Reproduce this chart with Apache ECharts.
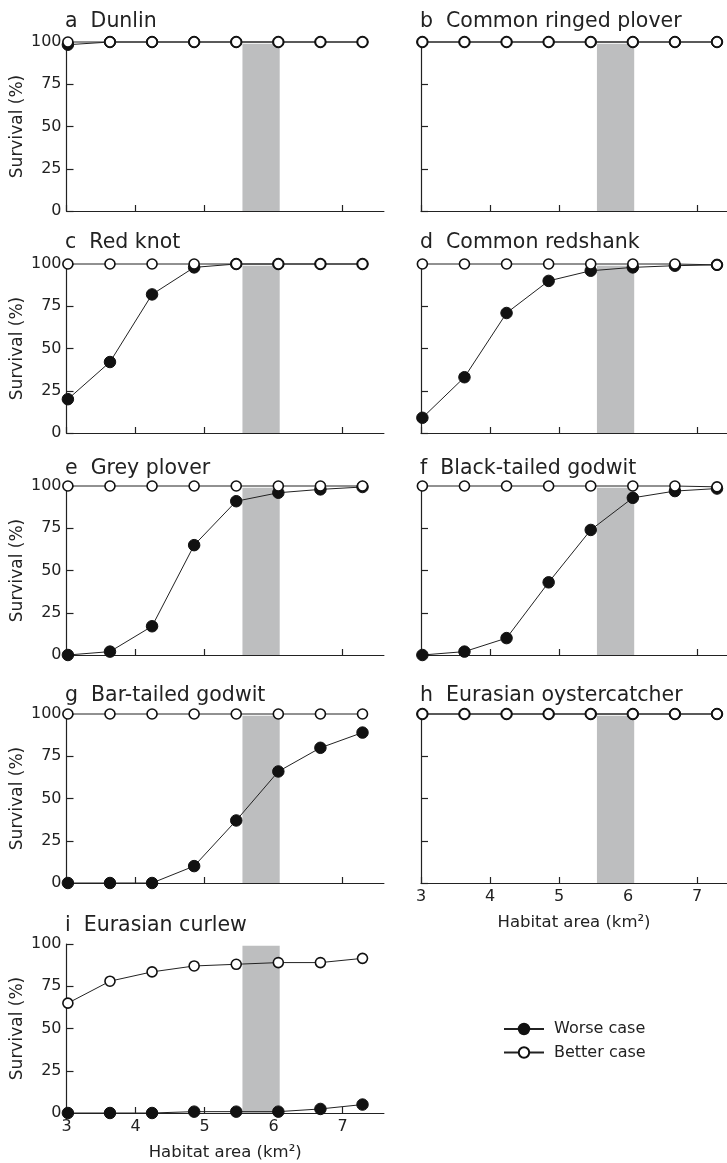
<!DOCTYPE html>
<html>
<head>
<meta charset="utf-8">
<script src="https://cdn.jsdelivr.net/npm/echarts@6/dist/echarts.min.js"></script>
<style>
html,body{margin:0;padding:0;background:#fff;}
#c{width:727px;height:1163px;}
</style>
</head>
<body>
<div id="c"></div>
<script>
// ---- data ----
const habitatArea = [3.02, 3.63, 4.24, 4.85, 5.46, 6.07, 6.68, 7.29];
const bandRange = [5.55, 6.09];
const bandTop = 99;
const xTicks = [3, 4, 5, 6, 7];
const yTicks = [0, 25, 50, 75, 100];
const panelLetters = ['a', 'b', 'c', 'd', 'e', 'f', 'g', 'h', 'i'];
const speciesNames = ['Dunlin', 'Common ringed plover', 'Red knot', 'Common redshank',
  'Grey plover', 'Black-tailed godwit', 'Bar-tailed godwit', 'Eurasian oystercatcher', 'Eurasian curlew'];
const seriesNames = ['Worse case', 'Better case'];

const worseDunlin = [98.4, 100, 100, 100, 100, 100, 100, 100];
const betterDunlin = [100, 100, 100, 100, 100, 100, 100, 100];
const worseRingedPlover = [100, 100, 100, 100, 100, 100, 100, 100];
const betterRingedPlover = [100, 100, 100, 100, 100, 100, 100, 100];
const worseRedKnot = [20, 42, 82, 98, 100, 100, 100, 100];
const betterRedKnot = [100, 100, 100, 100, 100, 100, 100, 100];
const worseRedshank = [9, 33, 71, 90, 96, 98, 99, 99.5];
const betterRedshank = [100, 100, 100, 100, 100, 100, 100, 99.5];
const worseGreyPlover = [0, 2, 17, 65, 91, 96, 98, 99.4];
const betterGreyPlover = [100, 100, 100, 100, 100, 100, 100, 100];
const worseBlackTailed = [0, 2, 10, 43, 74, 93, 97, 98.5];
const betterBlackTailed = [100, 100, 100, 100, 100, 100, 100, 99.5];
const worseBarTailed = [0, 0, 0, 10, 37, 66, 80, 89];
const betterBarTailed = [100, 100, 100, 100, 100, 100, 100, 100];
const worseOystercatcher = [100, 100, 100, 100, 100, 100, 100, 100];
const betterOystercatcher = [100, 100, 100, 100, 100, 100, 100, 100];
const worseCurlew = [0, 0, 0, 0.8, 0.8, 0.8, 2.4, 5];
const betterCurlew = [65, 78, 83.5, 87, 88, 89, 89, 91.5];

const worseAll = [worseDunlin, worseRingedPlover, worseRedKnot, worseRedshank, worseGreyPlover,
  worseBlackTailed, worseBarTailed, worseOystercatcher, worseCurlew];
const betterAll = [betterDunlin, betterRingedPlover, betterRedKnot, betterRedshank, betterGreyPlover,
  betterBlackTailed, betterBarTailed, betterOystercatcher, betterCurlew];

// ---- layout ----
const FONT = 'DejaVu Sans';
const INK = '#222';
const rowTop = [42, 264, 486, 714, 944];
const plotH = 169;
const titleTop = [11.5, 232.5, 458.5, 685.5, 915.5];
const colLeft = [66.5, 421];
const colWidth = [317.4, 306];
const colMax = [7.6, 7.435];
const titleLeft = [65, 420];

const grid = [], xAxis = [], yAxis = [], series = [], title = [];
for (let k = 0; k < 9; k++) {
  const row = Math.floor(k / 2), col = k % 2;
  grid.push({left: colLeft[col], width: colWidth[col], top: rowTop[row], height: plotH, containLabel: false});
  const showX = (k === 7 || k === 8);
  xAxis.push({
    type: 'value', gridIndex: k, min: xTicks[0], max: colMax[col], interval: 1,
    axisLine: {show: true, onZero: false, lineStyle: {color: INK, width: 1.2}},
    axisTick: {show: true, inside: true, length: 6, customValues: xTicks, lineStyle: {color: INK, width: 1.2}},
    axisLabel: {show: showX, margin: 6, customValues: xTicks, fontFamily: FONT, fontSize: 16, color: INK},
    splitLine: {show: false},
    name: showX ? 'Habitat area (km²)' : '', nameLocation: 'middle', nameGap: 31,
    nameTextStyle: {fontFamily: FONT, fontSize: 16.5, color: INK}
  });
  const showY = col === 0;
  yAxis.push({
    type: 'value', gridIndex: k, min: yTicks[0], max: yTicks[yTicks.length - 1], interval: 25,
    axisLine: {show: true, lineStyle: {color: INK, width: 1.2}},
    axisTick: {show: true, inside: true, length: 7, lineStyle: {color: INK, width: 1.2}},
    axisLabel: {show: showY, margin: 5, fontFamily: FONT, fontSize: 16, color: INK},
    splitLine: {show: false},
    name: showY ? 'Survival (%)' : '', nameLocation: 'middle', nameGap: 40,
    nameTextStyle: {fontFamily: FONT, fontSize: 17, color: INK}
  });
  title.push({
    text: panelLetters[k] + '  ' + speciesNames[k],
    left: titleLeft[col], top: titleTop[row], padding: 0,
    textStyle: {fontFamily: FONT, fontSize: 20.5, fontWeight: 'normal', color: INK}
  });
  series.push({
    name: seriesNames[0], type: 'line', xAxisIndex: k, yAxisIndex: k, z: 3,
    data: habitatArea.map((x, i) => [x, worseAll[k][i]]),
    symbol: 'circle', symbolSize: 11.5, clip: false,
    lineStyle: {color: INK, width: 1},
    itemStyle: {color: '#111', borderColor: '#111', borderWidth: 1},
    emphasis: {disabled: true},
    markArea: {
      silent: true, z: 1,
      itemStyle: {color: '#bdbebf'},
      data: [[{xAxis: bandRange[0], yAxis: 0}, {xAxis: bandRange[1], yAxis: bandTop}]]
    }
  });
  series.push({
    name: seriesNames[1], type: 'line', xAxisIndex: k, yAxisIndex: k, z: 4,
    data: habitatArea.map((x, i) => [x, betterAll[k][i]]),
    symbol: 'circle', symbolSize: 10, clip: false,
    lineStyle: {color: INK, width: 1},
    itemStyle: {color: '#fff', borderColor: '#111', borderWidth: 1.6},
    emphasis: {disabled: true}
  });
}

const chart = echarts.init(document.getElementById('c'), null, {renderer: 'canvas'});
chart.setOption({
  animation: false,
  backgroundColor: '#fff',
  title: title,
  grid: grid,
  xAxis: xAxis,
  yAxis: yAxis,
  legend: {
    data: seriesNames, orient: 'vertical', left: 503, top: 1021, padding: 0,
    itemWidth: 40, itemHeight: 13, itemGap: 7.5,
    textStyle: {fontFamily: FONT, fontSize: 16, color: INK, padding: [0, 0, 0, 5]},
    selectedMode: false
  },
  series: series
});
</script>
</body>
</html>
